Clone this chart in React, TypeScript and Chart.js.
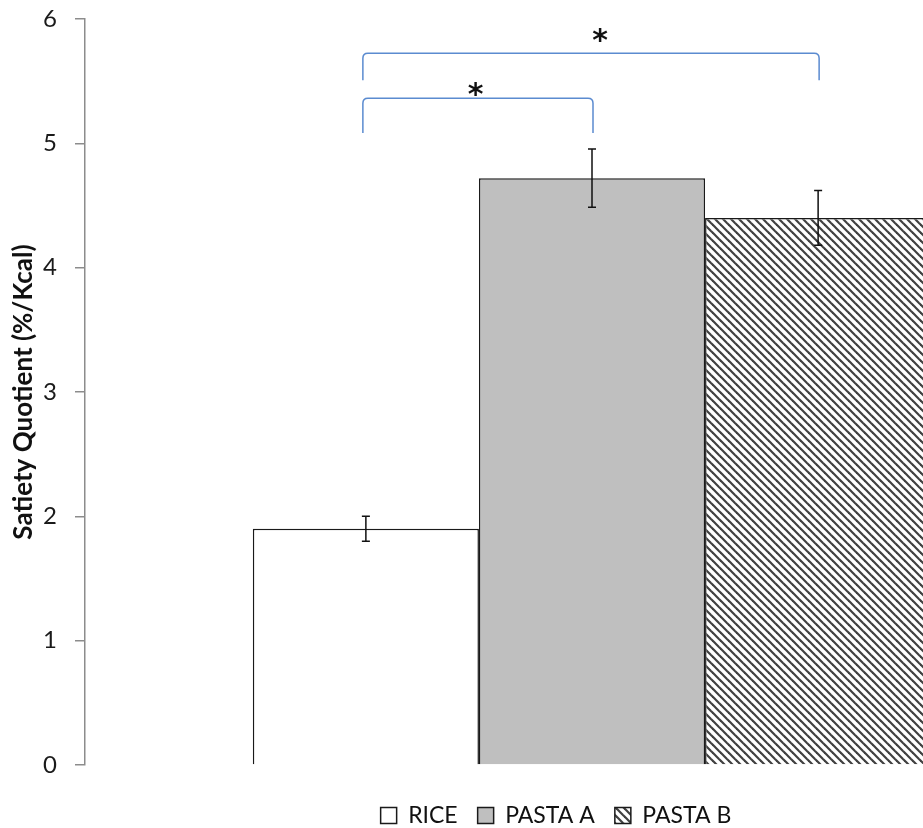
import { useEffect, useRef } from 'react';
import { Chart, registerables } from 'chart.js';

Chart.register(...registerables);

// ---- data ----
const categories = ['Satiety'];
const seriesNames = ['RICE', 'PASTA A', 'PASTA B'];
const seriesValues = [1.9, 4.72, 4.4];
const seriesErrors = [0.1, 0.235, 0.22];
const yTickValues = [0, 1, 2, 3, 4, 5, 6];
const axisTitle = 'Satiety Quotient (%/Kcal)';

// significance brackets (series index from -> to, levels in y units)
const bracketFrom = [0, 0];
const bracketTo = [1, 2];
const bracketLevel = [5.362, 5.724];
const bracketLegEnd = [5.083, 5.508];
const starLevel = [5.437, 5.871];
const starFraction = [0.49, 0.52];
const starLabel = ['*', '*'];

const FONT = "Lato, 'Open Sans', sans-serif";

function makeHatch(): CanvasPattern | string {
  const c = document.createElement('canvas');
  const s = 8;
  c.width = s;
  c.height = s;
  const g = c.getContext('2d');
  if (!g) return '#888';
  g.fillStyle = '#ffffff';
  g.fillRect(0, 0, s, s);
  g.strokeStyle = '#404040';
  g.lineWidth = 2.2;
  for (const k of [-s, 0, s]) {
    g.beginPath();
    g.moveTo(k - 1, -1);
    g.lineTo(k + s + 1, s + 1);
    g.stroke();
  }
  const p = g.createPattern(c, 'repeat');
  return p || '#888';
}

const overlayPlugin = {
  id: 'overlay',
  afterDatasetsDraw(chart: any) {
    const { ctx } = chart;
    const y = chart.scales.y;
    ctx.save();
    // error bars
    ctx.strokeStyle = '#111';
    ctx.lineWidth = 1.5;
    seriesValues.forEach((v, i) => {
      const el = chart.getDatasetMeta(i).data[0];
      if (!el) return;
      const x = el.x;
      const yt = y.getPixelForValue(v + seriesErrors[i]);
      const yb = y.getPixelForValue(v - seriesErrors[i]);
      ctx.beginPath();
      ctx.moveTo(x, yt);
      ctx.lineTo(x, yb);
      ctx.moveTo(x - 4, yt);
      ctx.lineTo(x + 4, yt);
      ctx.moveTo(x - 4, yb);
      ctx.lineTo(x + 4, yb);
      ctx.stroke();
    });
    // brackets
    ctx.strokeStyle = '#5b8bd0';
    ctx.lineWidth = 1.5;
    bracketFrom.forEach((f, b) => {
      const x1 = chart.getDatasetMeta(f).data[0].x - 3;
      const x2 = chart.getDatasetMeta(bracketTo[b]).data[0].x + 1;
      const top = y.getPixelForValue(bracketLevel[b]);
      const leg = y.getPixelForValue(bracketLegEnd[b]);
      const r = 5;
      ctx.beginPath();
      ctx.moveTo(x1, leg);
      ctx.lineTo(x1, top + r);
      ctx.quadraticCurveTo(x1, top, x1 + r, top);
      ctx.lineTo(x2 - r, top);
      ctx.quadraticCurveTo(x2, top, x2, top + r);
      ctx.lineTo(x2, leg);
      ctx.stroke();
      const sx = x1 + (x2 - x1) * starFraction[b];
      const sy = y.getPixelForValue(starLevel[b]);
      ctx.fillStyle = '#111';
      ctx.font = "bold 30px 'DejaVu Sans', sans-serif";
      ctx.textAlign = 'center';
      ctx.textBaseline = 'alphabetic';
      ctx.fillText(starLabel[b], sx, sy + 15);
    });
    ctx.restore();
  },
};

export default function App() {
  const ref = useRef<HTMLCanvasElement | null>(null);
  useEffect(() => {
    if (!ref.current) return;
    const hatch = makeHatch();
    const fills = ['#ffffff', '#bfbfbf', hatch];
    const chart = new Chart(ref.current, {
      type: 'bar',
      data: {
        labels: categories,
        datasets: seriesNames.map((name, i) => ({
          label: name,
          data: [seriesValues[i]],
          backgroundColor: fills[i] as any,
          borderColor: '#1a1a1a',
          borderWidth: 1.5,
          categoryPercentage: 0.669,
          barPercentage: 1,
        })),
      },
      options: {
        responsive: false,
        animation: false,
        layout: { padding: { top: 19, left: 13, right: 13, bottom: 23 } },
        plugins: {
          tooltip: { enabled: false },
          legend: {
            position: 'bottom',
            labels: {
              boxWidth: 16,
              boxHeight: 16,
              padding: 20,
              color: '#111',
              font: { family: FONT, size: 23 },
            },
          },
        },
        scales: {
          x: {
            display: true,
            ticks: { display: false },
            grid: { display: false },
            border: { display: false },
            afterFit: (s: any) => {
              s.height = 19;
            },
          },
          y: {
            min: 0,
            max: 6,
            afterBuildTicks: (s: any) => {
              s.ticks = yTickValues.map((v) => ({ value: v }));
            },
            afterFit: (s: any) => {
              s.width = 72;
              s.paddingTop = 0;
              s.paddingBottom = 0;
            },
            ticks: {
              padding: 18,
              color: '#1a1a1a',
              font: { family: FONT, size: 24 },
            },
            grid: {
              drawOnChartArea: false,
              drawTicks: true,
              tickLength: 10,
              color: '#8c8c8c',
              lineWidth: 1.5,
            },
            border: { color: '#8c8c8c', width: 1.5 },
            title: {
              display: true,
              text: axisTitle,
              color: '#111',
              padding: { top: -2, bottom: 0 },
              font: { family: FONT, size: 26, weight: 'bold', lineHeight: 1 },
            },
          },
        },
      },
      plugins: [overlayPlugin],
    });
    return () => chart.destroy();
  }, []);
  return (
    <div
      style={{
        position: 'fixed',
        left: 0,
        top: 0,
        width: 923,
        height: 828,
        overflow: 'hidden',
        background: '#fff',
      }}
    >
      <canvas ref={ref} width={1112} height={860} style={{ display: 'block' }} />
    </div>
  );
}
